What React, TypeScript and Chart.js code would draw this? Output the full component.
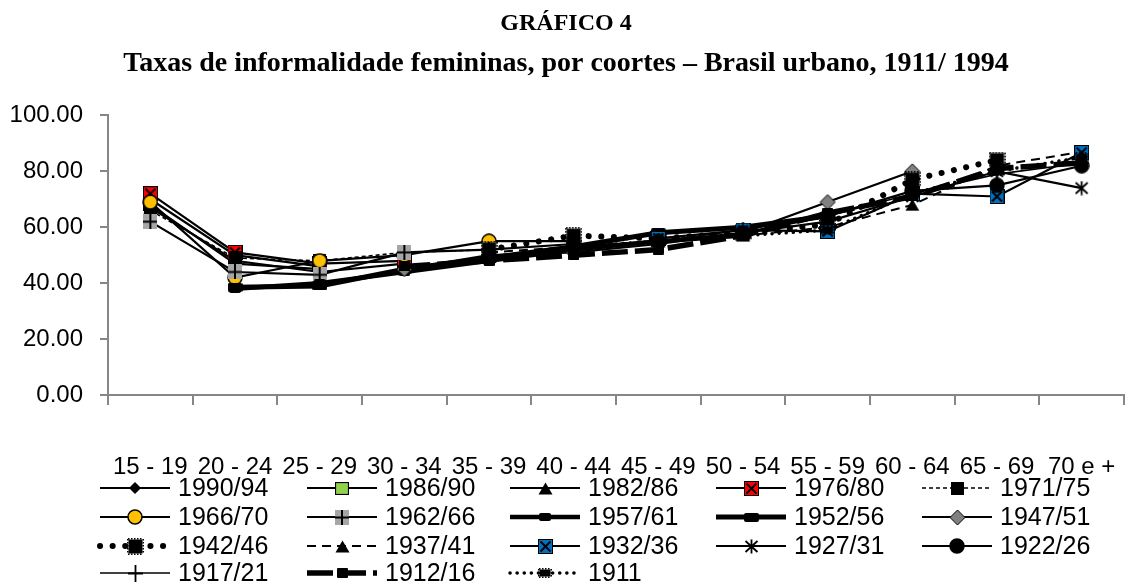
import React, { useEffect, useRef } from 'react';
import { Chart, registerables } from 'chart.js';

Chart.register(...registerables);

// ---------- DATA ----------
const categories = ['15 - 19', '20 - 24', '25 - 29', '30 - 34', '35 - 39', '40 - 44', '45 - 49', '50 - 54', '55 - 59', '60 - 64', '65 - 69', '70 e +'];
const yTickValues = [0, 20, 40, 60, 80, 100];

const N = null;
const c1990_94 = [70, 50, 46, N, N, N, N, N, N, N, N, N];
const c1986_90 = [68, 47, 45, N, N, N, N, N, N, N, N, N];
const c1982_86 = [67, 48, 44, 47, N, N, N, N, N, N, N, N];
const c1976_80 = [72, 51, 47, 48, N, N, N, N, N, N, N, N];
const c1971_75 = [66, 49, 48, 51, 52, N, N, N, N, N, N, N];
const c1966_70 = [69, 42, 48, 50, 55, 55, N, N, N, N, N, N];
const c1962_66 = [62, 44, 43, 51, 52, 54, N, N, N, N, N, N];
const c1957_61 = [N, 38, 40, 44, 48, 52, 55, 57, N, N, N, N];
const c1952_56 = [N, 38.5, 39, 45, 49, 53, 58, 60, 64, N, N, N];
const c1947_51 = [N, N, N, 45, 50, 51, 54, 58, 69, 80, N, N];
const c1942_46 = [N, N, N, N, 52, 57, 56, 58, 61, 77, 84, N];
const c1937_41 = [N, N, N, N, 51, 53, 55, 57, 60, 68, 82, 87];
const c1932_36 = [N, N, N, N, N, N, 56, 59, 58.5, 72, 71, 86.7];
const c1927_31 = [N, N, N, N, N, N, N, 58, 62, 71, 80, 74];
const c1922_26 = [N, N, N, N, 49.5, 53, 55, 58, 64, 73, 75, 82];
const c1917_21 = [N, N, N, N, N, N, 55, 59, 64, 72, 79, 83];
const c1912_16 = [N, N, N, 46, 48, 50, 52, 57, 65, 71, 81, 83];
const c1911 = [N, N, N, N, N, 53, 55, 57, 59, 72, 80, 85];

const seriesLabels = ['1990/94', '1986/90', '1982/86', '1976/80', '1971/75', '1966/70', '1962/66', '1957/61', '1952/56', '1947/51', '1942/46', '1937/41', '1932/36', '1927/31', '1922/26', '1917/21', '1912/16', '1911'];
const seriesValues = [c1990_94, c1986_90, c1982_86, c1976_80, c1971_75, c1966_70, c1962_66, c1957_61, c1952_56, c1947_51, c1942_46, c1937_41, c1932_36, c1927_31, c1922_26, c1917_21, c1912_16, c1911];

const titleText = 'GRÁFICO 4';
const subtitleText = 'Taxas de informalidade femininas, por coortes – Brasil urbano, 1911/ 1994';

// ---------- STYLE / LAYOUT ----------
const TICK_FONT = { family: '"Liberation Sans", Arial, sans-serif', size: 24 };
const LEGEND_FONT = '25px "Liberation Sans", Arial, sans-serif';
const LEG_X = [100, 307, 510, 716, 922];
const LEG_Y = [488, 517, 546, 573];
const LEG_LINE = 70;
const AXIS_COLOR = '#868686';

type Draw = (ctx: CanvasRenderingContext2D, w: number, h: number) => void;
function mk(w: number, h: number, draw: Draw): HTMLCanvasElement {
  const c = document.createElement('canvas');
  c.width = w; c.height = h;
  const ctx = c.getContext('2d')!;
  draw(ctx, w, h);
  return c;
}

function buildMarkers() {
  const diamond = (fill: string, stroke?: string) => (ctx: CanvasRenderingContext2D, w: number, h: number) => {
    ctx.beginPath();
    ctx.moveTo(w / 2, 1); ctx.lineTo(w - 1, h / 2); ctx.lineTo(w / 2, h - 1); ctx.lineTo(1, h / 2); ctx.closePath();
    ctx.fillStyle = fill; ctx.fill();
    if (stroke) { ctx.strokeStyle = stroke; ctx.lineWidth = 1; ctx.stroke(); }
  };
  const tri = (ctx: CanvasRenderingContext2D, w: number, h: number) => {
    ctx.beginPath(); ctx.moveTo(w / 2, 0.5); ctx.lineTo(w - 0.5, h - 0.5); ctx.lineTo(0.5, h - 0.5); ctx.closePath();
    ctx.fillStyle = '#000'; ctx.fill();
  };
  const xBox = (fill: string) => (ctx: CanvasRenderingContext2D, w: number, h: number) => {
    ctx.fillStyle = fill; ctx.fillRect(0, 0, w, h);
    ctx.strokeStyle = '#000'; ctx.lineWidth = 1; ctx.strokeRect(0.5, 0.5, w - 1, h - 1);
    ctx.lineWidth = 2; ctx.beginPath();
    ctx.moveTo(2.5, 2.5); ctx.lineTo(w - 2.5, h - 2.5); ctx.moveTo(w - 2.5, 2.5); ctx.lineTo(2.5, h - 2.5); ctx.stroke();
  };
  const circle = (fill: string) => (ctx: CanvasRenderingContext2D, w: number, h: number) => {
    ctx.beginPath(); ctx.arc(w / 2, h / 2, w / 2 - 1, 0, Math.PI * 2);
    ctx.fillStyle = fill; ctx.fill(); ctx.strokeStyle = '#000'; ctx.lineWidth = 1.5; ctx.stroke();
  };
  const rectFill = (r: number) => (ctx: CanvasRenderingContext2D, w: number, h: number) => {
    ctx.fillStyle = '#000'; ctx.beginPath();
    (ctx as any).roundRect ? (ctx as any).roundRect(0, 0, w, h, r) : ctx.rect(0, 0, w, h);
    ctx.fill();
  };
  const jagged = (ctx: CanvasRenderingContext2D, w: number, h: number) => {
    ctx.fillStyle = '#000'; ctx.fillRect(1.5, 1.5, w - 3, h - 3);
    for (let x = 1; x < w - 1; x += 3) { ctx.fillRect(x, 0, 1.5, 1.5); ctx.fillRect(x, h - 1.5, 1.5, 1.5); }
    for (let y = 1; y < h - 1; y += 3) { ctx.fillRect(0, y, 1.5, 1.5); ctx.fillRect(w - 1.5, y, 1.5, 1.5); }
  };
  return {
    '1990/94': mk(14, 14, diamond('#000')),
    '1986/90': mk(14, 13, (ctx, w, h) => { ctx.fillStyle = '#92D050'; ctx.fillRect(0, 0, w, h); ctx.strokeStyle = '#000'; ctx.lineWidth = 1.2; ctx.strokeRect(0.5, 0.5, w - 1, h - 1); }),
    '1982/86': mk(15, 13, tri),
    '1976/80': mk(15, 15, xBox('#FF0000')),
    '1971/75': mk(13, 13, (ctx, w, h) => { ctx.fillStyle = '#000'; ctx.fillRect(0, 0, w, h); }),
    '1966/70': mk(16, 16, circle('#FFC000')),
    '1962/66': mk(14, 15, (ctx, w, h) => {
      ctx.fillStyle = '#A6A6A6'; ctx.fillRect(0, 0, w, h);
      ctx.strokeStyle = '#000'; ctx.lineWidth = 2; ctx.beginPath();
      ctx.moveTo(w / 2, 0); ctx.lineTo(w / 2, h); ctx.moveTo(0, h / 2); ctx.lineTo(w, h / 2); ctx.stroke();
    }),
    '1957/61': mk(12, 8, rectFill(2)),
    '1952/56': mk(15, 9, rectFill(2)),
    '1947/51': mk(17, 17, diamond('#808080', '#000')),
    '1942/46': mk(17, 17, jagged),
    '1937/41': mk(15, 13, tri),
    '1932/36': mk(15, 15, xBox('#0070C0')),
    '1927/31': mk(15, 15, (ctx, w, h) => {
      ctx.strokeStyle = '#000'; ctx.lineWidth = 1.8; ctx.beginPath();
      ctx.moveTo(1.5, 2); ctx.lineTo(w - 1.5, h - 2); ctx.moveTo(w - 1.5, 2); ctx.lineTo(1.5, h - 2);
      ctx.moveTo(w / 2, 0.5); ctx.lineTo(w / 2, h - 0.5); ctx.stroke();
    }),
    '1922/26': mk(16, 16, circle('#000')),
    '1917/21': mk(15, 17, (ctx, w, h) => {
      ctx.strokeStyle = '#000'; ctx.lineWidth = 1.8; ctx.beginPath();
      ctx.moveTo(w / 2, 0); ctx.lineTo(w / 2, h); ctx.moveTo(0, h / 2); ctx.lineTo(w, h / 2); ctx.stroke();
    }),
    '1912/16': mk(11, 10, rectFill(1)),
    '1911': mk(14, 10, jagged),
  } as Record<string, HTMLCanvasElement>;
}

const lineStyles: Record<string, { width: number; dash: number[]; cap: CanvasLineCap }> = {
  '1990/94': { width: 2.2, dash: [], cap: 'butt' },
  '1986/90': { width: 2.2, dash: [], cap: 'butt' },
  '1982/86': { width: 2.2, dash: [], cap: 'butt' },
  '1976/80': { width: 2.2, dash: [], cap: 'butt' },
  '1971/75': { width: 1.6, dash: [4, 3], cap: 'butt' },
  '1966/70': { width: 2.2, dash: [], cap: 'butt' },
  '1962/66': { width: 2.2, dash: [], cap: 'butt' },
  '1957/61': { width: 4.5, dash: [], cap: 'butt' },
  '1952/56': { width: 5, dash: [], cap: 'butt' },
  '1947/51': { width: 2.2, dash: [], cap: 'butt' },
  '1942/46': { width: 6, dash: [0.1, 12.5], cap: 'round' },
  '1937/41': { width: 2, dash: [9, 6], cap: 'butt' },
  '1932/36': { width: 2.2, dash: [], cap: 'butt' },
  '1927/31': { width: 2.2, dash: [], cap: 'butt' },
  '1922/26': { width: 2.2, dash: [], cap: 'butt' },
  '1917/21': { width: 1.6, dash: [], cap: 'butt' },
  '1912/16': { width: 5.5, dash: [26, 7], cap: 'butt' },
  '1911': { width: 3.5, dash: [0.1, 7], cap: 'round' },
};

const legendPlugin = {
  id: 'gridLegend',
  afterDraw(chart: any) {
    const ctx: CanvasRenderingContext2D = chart.ctx;
    chart.data.datasets.forEach((ds: any, i: number) => {
      const col = i % 5;
      const row = Math.floor(i / 5);
      const x0 = LEG_X[col];
      const y = LEG_Y[row];
      ctx.save();
      ctx.strokeStyle = '#000';
      ctx.lineWidth = ds.borderWidth;
      ctx.setLineDash(ds.borderDash || []);
      ctx.lineCap = ds.borderCapStyle || 'butt';
      ctx.beginPath();
      ctx.moveTo(x0, y);
      ctx.lineTo(x0 + LEG_LINE, y);
      ctx.stroke();
      ctx.setLineDash([]);
      const img: HTMLCanvasElement = ds.pointStyle;
      ctx.drawImage(img, Math.round(x0 + LEG_LINE / 2 - img.width / 2), Math.round(y - img.height / 2));
      ctx.fillStyle = '#000';
      ctx.font = LEGEND_FONT;
      ctx.textAlign = 'left';
      ctx.textBaseline = 'middle';
      ctx.fillText(ds.label, x0 + LEG_LINE + 8, y + 1);
      ctx.restore();
    });
  },
};

export default function App() {
  const ref = useRef<HTMLCanvasElement | null>(null);
  useEffect(() => {
    if (!ref.current) return;
    const markers = buildMarkers();
    const datasets = seriesLabels.map((label, i) => {
      const st = lineStyles[label];
      return {
        label,
        data: seriesValues[i],
        borderColor: '#000',
        backgroundColor: '#000',
        borderWidth: st.width,
        borderDash: st.dash,
        borderCapStyle: st.cap,
        pointStyle: markers[label],
        pointRadius: 6,
        pointHoverRadius: 6,
        tension: 0,
        spanGaps: false,
        order: -i,
      };
    });
    const chart = new Chart(ref.current, {
      type: 'line',
      data: { labels: categories, datasets: datasets as any },
      options: {
        animation: false,
        responsive: true,
        maintainAspectRatio: false,
        layout: { autoPadding: false, padding: { left: 8, right: 2, top: 0, bottom: 112 } },
        plugins: {
          legend: { display: false },
          tooltip: { enabled: false },
          title: {
            display: true,
            text: titleText,
            color: '#000',
            font: { family: '"Liberation Serif", "Times New Roman", serif', size: 24, weight: 'bold', lineHeight: 1.2 },
            padding: { top: 9, bottom: 0 },
          },
          subtitle: {
            display: true,
            text: subtitleText,
            color: '#000',
            font: { family: '"Liberation Serif", "Times New Roman", serif', size: 28, weight: 'bold', lineHeight: 1.2 },
            padding: { top: 9, bottom: 35 },
          },
        },
        scales: {
          x: {
            offset: true,
            afterFit: (axis: any) => { axis.paddingLeft = 0; axis.paddingRight = 0; axis.height = 80; },
            grid: { offset: true, drawOnChartArea: false, drawTicks: true, tickLength: 10, color: AXIS_COLOR, lineWidth: 2 },
            border: { color: AXIS_COLOR, width: 2 },
            ticks: { color: '#000', font: TICK_FONT, padding: 48, maxRotation: 0, autoSkip: false },
          },
          y: {
            min: 0,
            max: 100,
            afterFit: (axis: any) => { axis.width = 100; },
            afterBuildTicks: (axis: any) => { axis.ticks = yTickValues.map((v) => ({ value: v })); },
            grid: { drawOnChartArea: false, drawTicks: true, tickLength: 8, color: AXIS_COLOR, lineWidth: 2 },
            border: { color: AXIS_COLOR, width: 2 },
            ticks: { color: '#000', font: TICK_FONT, padding: 17, callback: (v: any) => Number(v).toFixed(2) },
          },
        },
      },
      plugins: [legendPlugin],
    });
    return () => chart.destroy();
  }, []);
  return (
    <div style={{ position: 'fixed', left: 0, top: 0, width: 1126, height: 587, background: '#fff' }}>
      <canvas ref={ref} />
    </div>
  );
}
